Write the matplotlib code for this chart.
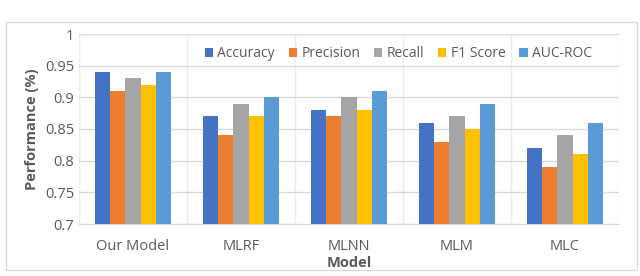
import numpy as np
import matplotlib.pyplot as plt
from matplotlib.patches import Rectangle

models = ['Our Model', 'MLRF', 'MLNN', 'MLM', 'MLC']
metrics = ['Accuracy', 'Precision', 'Recall', 'F1 Score', 'AUC-ROC']
accuracy = [0.94, 0.87, 0.88, 0.86, 0.82]
precision = [0.91, 0.84, 0.87, 0.83, 0.79]
recall = [0.93, 0.89, 0.90, 0.87, 0.84]
f1_score = [0.92, 0.87, 0.88, 0.85, 0.81]
auc_roc = [0.94, 0.90, 0.91, 0.89, 0.86]
yticks = [0.7, 0.75, 0.8, 0.85, 0.9, 0.95, 1]

series = [accuracy, precision, recall, f1_score, auc_roc]
colors = ['#4472C4', '#ED7D31', '#A5A5A5', '#FFC000', '#5B9BD5']
txt = '#595959'

plt.rcParams['font.family'] = ['Open Sans', 'DejaVu Sans']

fig = plt.figure(figsize=(6.4, 2.76), dpi=100)
ax = fig.add_axes([79/640, 1-224/276, 540/640, 190/276])

# outer chart frame
fig.patches.append(Rectangle((6/640, 1-270/276), 631/640, 248/276,
                             transform=fig.transFigure, fill=False,
                             edgecolor='#D9D9D9', lw=1))

x = np.arange(len(models))
w = 0.139
for i, vals in enumerate(series):
    ax.bar(x + (i-2)*w, np.array(vals)-0.7, w, bottom=0.7, color=colors[i],
           label=metrics[i], zorder=3)

ax.set_xlim(-0.5, len(models)-0.5)
ax.set_ylim(0.7, 1)
ax.set_yticks(yticks)
ax.set_yticklabels([f'{t:g}' for t in yticks])
ax.set_xticks(x)
ax.set_xticklabels(models)
ax.set_xticks(np.arange(-0.5, len(models), 0.5), minor=True)
ax.grid(axis='y', color='#D9D9D9', lw=1, zorder=0)
ax.grid(axis='x', which='minor', color='#EDEDED', lw=1, zorder=0)
ax.tick_params(which='both', length=0, colors=txt, labelsize=10.5)
ax.tick_params(axis='x', pad=11)
for s in ['top', 'right', 'left']:
    ax.spines[s].set_visible(False)
ax.spines['bottom'].set_color('#D9D9D9')

ax.set_ylabel('Performance (%)', fontsize=10.5, fontweight='bold', color=txt, labelpad=4)
ax.set_xlabel('Model', fontsize=10.5, fontweight='bold', color=txt, labelpad=1)

leg = ax.legend(ncol=5, loc='upper right', bbox_to_anchor=(0.965, 0.98), frameon=False,
                fontsize=10, handlelength=0.6, handleheight=0.6, handletextpad=0.3,
                columnspacing=1.0, borderaxespad=0.2)
for t in leg.get_texts():
    t.set_color(txt)

fig.savefig('out.png', dpi=100)
